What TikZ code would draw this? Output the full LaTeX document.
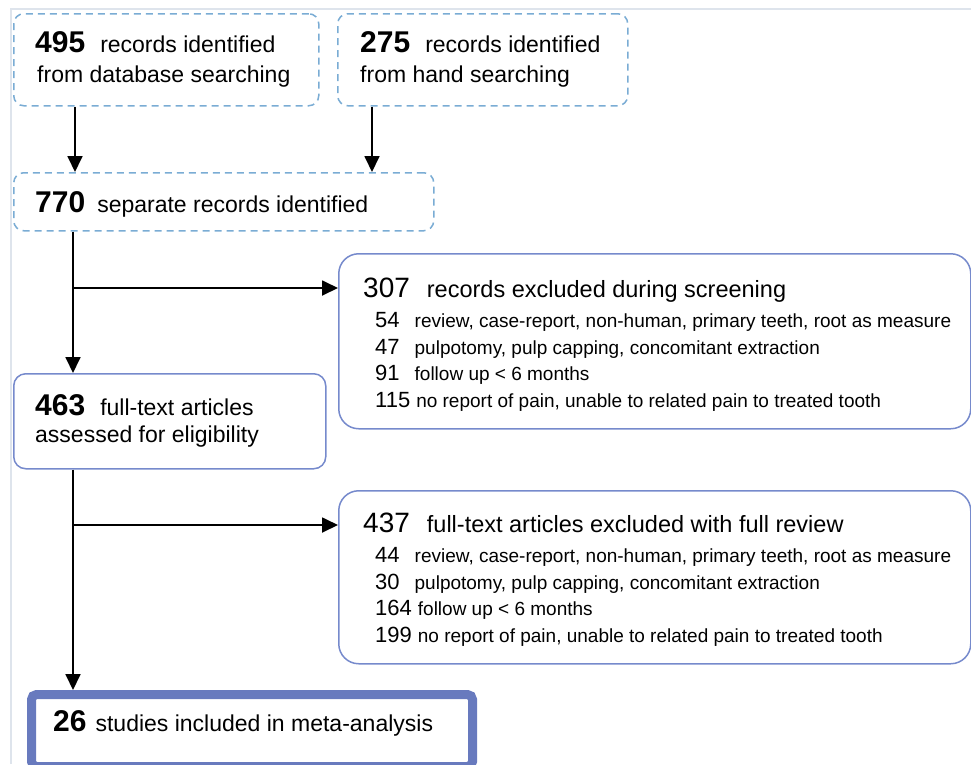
\documentclass[tikz,border=0pt]{standalone}
\usepackage{fontspec}
\setmainfont{Liberation Sans}
\usetikzlibrary{arrows.meta}
\definecolor{dashblue}{RGB}{122,172,212}
\definecolor{boxblue}{RGB}{118,138,204}
\definecolor{finblue}{RGB}{104,122,190}
\definecolor{framegray}{RGB}{222,228,236}
\newcommand{\bnum}[1]{{\fontsize{30}{34}\selectfont\bfseries #1}}
\newcommand{\tnum}[1]{{\fontsize{28}{32}\selectfont #1}}
\newcommand{\snum}[1]{{\fontsize{22}{26}\selectfont #1}}
\newcommand{\mtxt}{\fontsize{23}{27}\selectfont}
\newcommand{\ttxt}{\fontsize{23.5}{27}\selectfont}
\newcommand{\stxt}{\fontsize{19}{23}\selectfont}
\begin{document}
\begin{tikzpicture}[x=1pt,y=-1pt,
  dbox/.style={draw=dashblue, line width=1.5pt, dash pattern=on 7pt off 5pt, rounded corners=10pt, anchor=north west, inner sep=0pt},
  sbox/.style={draw=boxblue, line width=1.5pt, rounded corners=12pt, anchor=north west, inner sep=0pt},
  ebox/.style={draw=boxblue, line width=1.5pt, rounded corners=20pt, anchor=north west, inner sep=0pt},
  fbox/.style={draw=finblue, line width=9pt, rounded corners=5pt, anchor=north west, inner sep=0pt},
  txt/.style={anchor=base west, inner sep=0pt, font=\mtxt},
  ttl/.style={anchor=base west, inner sep=0pt, font=\ttxt},
  sub/.style={anchor=base west, inner sep=0pt, font=\stxt},
  arr/.style={-{Triangle[width=15pt,length=16pt]}, line width=1.8pt, black}]
\useasboundingbox (0,0) rectangle (971,764);
\draw[framegray, line width=1.2pt] (11,764) -- (11,9) -- (971,9);

% boxes
\node[dbox, minimum width=305pt, minimum height=92pt] (A) at (13,13) {};
\node[dbox, minimum width=290pt, minimum height=92pt] (B) at (337,13) {};
\node[dbox, minimum width=420pt, minimum height=58pt] (C) at (13,172) {};
\node[sbox, minimum width=312pt, minimum height=95pt] (D) at (13,373) {};
\node[ebox, minimum width=632pt, minimum height=175pt] (E) at (338,253) {};
\node[ebox, minimum width=632pt, minimum height=173pt] (G) at (338,490) {};
\node[fbox, minimum width=441pt, minimum height=72pt] (F) at (27,690) {};

% texts
\node[txt] (tA1) at (35,52) {\bnum{495}\hspace{15pt}records identified};
\node[txt] (tA2) at (37,82) {from database searching};
\node[txt] (tB1) at (360,52) {\bnum{275}\hspace{15pt}records identified};
\node[txt] (tB2) at (360,82) {from hand searching};
\node[txt] (tC1) at (35,212) {\bnum{770}\hspace{12pt}separate records identified};
\node[txt] (tD1) at (35,415) {\bnum{463}\hspace{15pt}full-text articles};
\node[txt] (tD2) at (35,442) {assessed for eligibility};
\node[txt] (tF1) at (53,731) {\bnum{26}\hspace{9pt}studies included in meta-analysis};

\node[ttl] (tE0) at (363,297) {\tnum{307}\hspace{17pt}records excluded during screening};
\node[sub] (tE1) at (375,327) {\snum{54}\hspace{15pt}review, case-report, non-human, primary teeth, root as measure};
\node[sub] (tE2) at (375,354) {\snum{47}\hspace{15pt}pulpotomy, pulp capping, concomitant extraction};
\node[sub] (tE3) at (375,380) {\snum{91}\hspace{15pt}follow up < 6 months};
\node[sub] (tE4) at (375,407) {\snum{115}\hspace{6pt}no report of pain, unable to related pain to treated tooth};

\node[ttl] (tG0) at (363,532) {\tnum{437}\hspace{17pt}full-text articles excluded with full review};
\node[sub] (tG1) at (375,562) {\snum{44}\hspace{15pt}review, case-report, non-human, primary teeth, root as measure};
\node[sub] (tG2) at (375,589) {\snum{30}\hspace{15pt}pulpotomy, pulp capping, concomitant extraction};
\node[sub] (tG3) at (375,615) {\snum{164}\hspace{6pt}follow up < 6 months};
\node[sub] (tG4) at (375,642) {\snum{199}\hspace{6pt}no report of pain, unable to related pain to treated tooth};

% connectors
\coordinate (xA) at (75,100);
\coordinate (xB) at (372,100);
\coordinate (xT) at (73,300);
\coordinate (j1) at (73,288);
\coordinate (j2) at (73,525);
\draw[arr] (xA |- A.south) -- (xA |- C.north);
\draw[arr] (xB |- B.south) -- (xB |- C.north);
\draw[arr] (xT |- C.south) -- (xT |- D.north);
\draw[arr] (j1) -- (j1 -| E.west);
\draw[arr] (xT |- D.south) -- (xT |- F.north);
\draw[arr] (j2) -- (j2 -| G.west);
\end{tikzpicture}
\end{document}
